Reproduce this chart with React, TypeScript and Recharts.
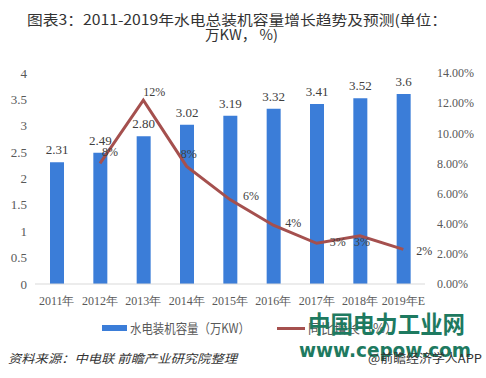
import React from "react";
import { ComposedChart, Bar, Line, XAxis, YAxis, LabelList } from "recharts";

const categories = ["2011年", "2012年", "2013年", "2014年", "2015年", "2016年", "2017年", "2018年", "2019年E"];
const capacity = [2.31, 2.49, 2.8, 3.02, 3.19, 3.32, 3.41, 3.52, 3.6];
const capacityLabels = ["2.31", "2.49", "2.80", "3.02", "3.19", "3.32", "3.41", "3.52", "3.6"];
const growth: (number | null)[] = [null, 8.0, 12.2, 7.8, 5.6, 3.9, 2.7, 3.2, 2.3];
const growthLabels = ["", "8%", "12%", "8%", "6%", "4%", "3%", "3%", "2%"];
const leftTicks = [0, 0.5, 1, 1.5, 2, 2.5, 3, 3.5, 4];
const rightTicks = [0, 2, 4, 6, 8, 10, 12, 14];

const data = categories.map((c, i) => ({
  name: c,
  cap: capacity[i],
  capLabel: capacityLabels[i],
  growth: growth[i],
  growthLabel: growthLabels[i],
}));

// label placement offsets (styling)
const growthLabelDx = [0, 10, 11, 2, 21, 20, 21, 2, 21];
const growthLabelDy = [0, -10, -7, -11, -2, -1, 0, 7, 3];

const SERIF = "'Liberation Serif', 'Times New Roman', serif";
const SANS = "'Noto Sans CJK SC', 'Noto Sans', sans-serif";
const BLUE = "#3B7DD8";
const RED = "#A5504E";

const GrowthLabel = (props: any) => {
  const { x, y, index } = props;
  const t = growthLabels[index];
  if (!t || x == null || y == null) return null;
  return (
    <text
      x={x + growthLabelDx[index]}
      y={y + growthLabelDy[index]}
      textAnchor="middle"
      dominantBaseline="middle"
      fontFamily={SERIF}
      fontSize={12}
      fill="#404040"
    >
      {t}
    </text>
  );
};

export default function App() {
  return (
    <div style={{ position: "absolute", left: 0, top: 0, width: 486, height: 378, background: "#fff", overflow: "hidden" }}>
      <div style={{ position: "absolute", left: 0, top: 0 }}>
        <ComposedChart
          width={486}
          height={378}
          data={data}
          margin={{ top: 73, right: 0, bottom: 64, left: 0 }}
        >
          <XAxis
            dataKey="name"
            axisLine={{ stroke: "#d9d9d9" }}
            tickLine={false}
            height={30}
            interval={0}
            tick={{ fontFamily: SERIF, fontSize: 12, fill: "#595959" }}
            tickMargin={6}
          />
          <YAxis
            yAxisId="left"
            orientation="left"
            width={35}
            domain={[0, 4]}
            ticks={leftTicks}
            axisLine={false}
            tickLine={false}
            tick={{ fontFamily: SERIF, fontSize: 13, fill: "#595959" }}
          />
          <YAxis
            yAxisId="right"
            orientation="right"
            width={61}
            domain={[0, 14]}
            ticks={rightTicks}
            axisLine={false}
            tickLine={false}
            tickMargin={6}
            tickFormatter={(v: number) => v.toFixed(2) + "%"}
            tick={{ fontFamily: SERIF, fontSize: 12, fill: "#595959", textAnchor: "start" }}
          />
          <Bar yAxisId="left" dataKey="cap" fill={BLUE} barSize={14} isAnimationActive={false}>
            <LabelList
              dataKey="capLabel"
              position="top"
              offset={8}
              style={{ fontFamily: SERIF, fontSize: 13, fill: "#404040" }}
            />
          </Bar>
          <Line
            yAxisId="right"
            dataKey="growth"
            stroke={RED}
            strokeWidth={3}
            dot={false}
            activeDot={false}
            type="linear"
            connectNulls={false}
            isAnimationActive={false}
          >
            <LabelList dataKey="growthLabel" content={GrowthLabel} />
          </Line>
        </ComposedChart>
      </div>
      {/* legend */}
      <div style={{ position: "absolute", left: 102, top: 325, width: 25, height: 6, background: BLUE }} />
      <div style={{ position: "absolute", left: 277, top: 327, width: 28, height: 3, background: RED }} />
      <svg width={486} height={378} style={{ position: "absolute", left: 0, top: 0 }}>
        <text
          x={27}
          y={25}
          fontFamily={SANS}
          fontSize={14}
          fill="#333"
          textLength={420}
          lengthAdjust="spacingAndGlyphs"
        >
          图表3：2011-2019年水电总装机容量增长趋势及预测(单位：
        </text>
        <text
          x={205}
          y={40}
          fontFamily={SANS}
          fontSize={14}
          fill="#333"
          textLength={73}
          lengthAdjust="spacingAndGlyphs"
        >
          万KW，  %)
        </text>
        <text
          x={130}
          y={333}
          fontFamily={SANS}
          fontSize={13}
          fill="#595959"
          textLength={120}
          lengthAdjust="spacingAndGlyphs"
        >
          水电装机容量（万KW）
        </text>
        <text
          x={308}
          y={333}
          fontFamily={SANS}
          fontSize={13}
          fill="#595959"
        >
          同比增长（%）
        </text>
        <text
          x={308}
          y={333}
          fontFamily={SANS}
          fontWeight={700}
          fontSize={24}
          fill="#1E7A60"
          textLength={157}
          lengthAdjust="spacingAndGlyphs"
        >
          中国电力工业网
        </text>
        <text
          x={299}
          y={357}
          fontFamily="'DejaVu Sans', sans-serif"
          fontWeight={700}
          fontSize={20}
          fill="#1E7A60"
          textLength={172}
          lengthAdjust="spacingAndGlyphs"
        >
          www.cepow.com
        </text>
        <text
          x={8}
          y={363}
          fontFamily={SANS}
          fontStyle="italic"
          fontSize={12}
          fill="#333"
          textLength={229}
          lengthAdjust="spacingAndGlyphs"
        >
          资料来源：中电联 前瞻产业研究院整理
        </text>
        <text
          x={368}
          y={363}
          fontFamily={SANS}
          fontSize={12}
          fill="#333"
          textLength={114}
          lengthAdjust="spacingAndGlyphs"
        >
          @前瞻经济学人APP
        </text>
      </svg>
    </div>
  );
}
